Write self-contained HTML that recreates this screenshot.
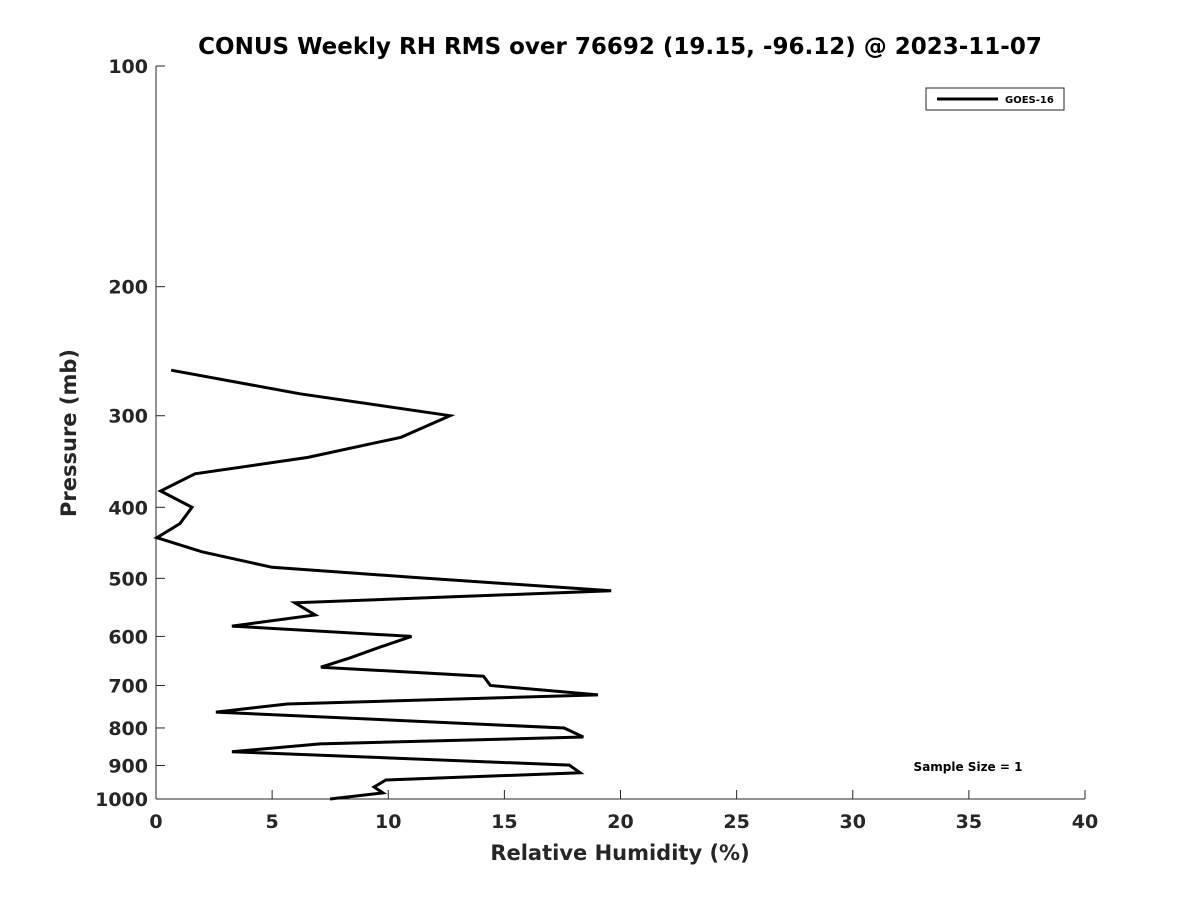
<!DOCTYPE html>
<html><head><meta charset="utf-8"><style>
body{margin:0;background:#fff}
svg text{font-family:"DejaVu Sans","Liberation Sans",sans-serif;font-weight:bold;fill:#262626}
</style></head><body>
<svg id="chart" width="1200" height="900" xmlns="http://www.w3.org/2000/svg">
<rect width="1200" height="900" fill="#fff"/>
<text x="620" y="54" text-anchor="middle" font-size="23" style="fill:#000">CONUS Weekly RH RMS over 76692 (19.15, -96.12) @ 2023-11-07</text>
<g id="axes"></g>
<g id="series"></g>
<text x="620" y="860" text-anchor="middle" font-size="21">Relative Humidity (%)</text>
<text transform="translate(76,433) rotate(-90)" text-anchor="middle" font-size="21">Pressure (mb)</text>
<g>
<rect x="926" y="88" width="138" height="22" fill="#fff" stroke="#262626" stroke-width="1"/>
<line x1="937" y1="99" x2="998" y2="99" stroke="#000" stroke-width="3"/>
<text x="1005" y="103" font-size="10" style="fill:#000">GOES-16</text>
</g>
<text x="968" y="771" text-anchor="middle" font-size="12" style="fill:#000">Sample Size = 1</text>
</svg>
<script>
const xTicks=[0,5,10,15,20,25,30,35,40];
const yTicks=[100,200,300,400,500,600,700,800,900,1000];
const rhValues=[0.65,6.2,12.66,10.55,6.54,1.68,0.2,1.55,1.03,0.04,1.98,5.0,10.94,19.6,5.98,6.85,3.27,11.0,9.56,8.35,7.1,14.1,14.4,19.03,5.64,2.58,17.57,18.4,7.06,3.27,17.8,18.26,9.9,9.39,9.77,7.49];
const pressures=[260,280,300,321,342,360,380,400,421,440,460,483,498,520,540,561,581,600,622,642,661,680,700,721,742,761,800,823,841,862,899,921,942,963,981,1000];
const X0=156,X1=1085,Y0=66,Y1=799;
const xs=v=>X0+(v-0)/(40-0)*(X1-X0);
const ys=p=>Y0+Math.log10(p/100)*(Y1-Y0);
const NS="http://www.w3.org/2000/svg";
const axes=document.getElementById('axes');
function mk(tag,attrs,parent){const e=document.createElementNS(NS,tag);for(const k in attrs)e.setAttribute(k,attrs[k]);parent.appendChild(e);return e;}
const xa=mk('line',{x1:X0,y1:Y1,x2:X1,y2:Y1,stroke:'#262626','stroke-width':1},axes);


const ya=mk('line',{x1:X0,y1:Y0,x2:X0,y2:Y1,stroke:'#262626','stroke-width':1},axes);


xTicks.forEach(t=>{
  const x=xs(t);
  const l=mk('line',{x1:x,y1:Y1,x2:x,y2:Y1-9,stroke:'#262626'},axes);
  
  
  const tx=mk('text',{x:x,y:Y1+29,'text-anchor':'middle','font-size':19},axes);
  tx.textContent=t;
  
  
});
yTicks.forEach(t=>{
  const y=ys(t);
  const l=mk('line',{x1:X0,y1:y,x2:X0+9,y2:y,stroke:'#262626'},axes);
  
  
  const tx=mk('text',{x:X0-8,y:y+7,'text-anchor':'end','font-size':19},axes);
  tx.textContent=t;
  
  
});
const pts=rhValues.map((v,i)=>xs(v).toFixed(1)+','+ys(pressures[i]).toFixed(1)).join(' ');
const pl=mk('polyline',{points:pts,fill:'none',stroke:'#000','stroke-width':3,'stroke-linejoin':'miter'},document.getElementById('series'));


</script>
</body></html>
